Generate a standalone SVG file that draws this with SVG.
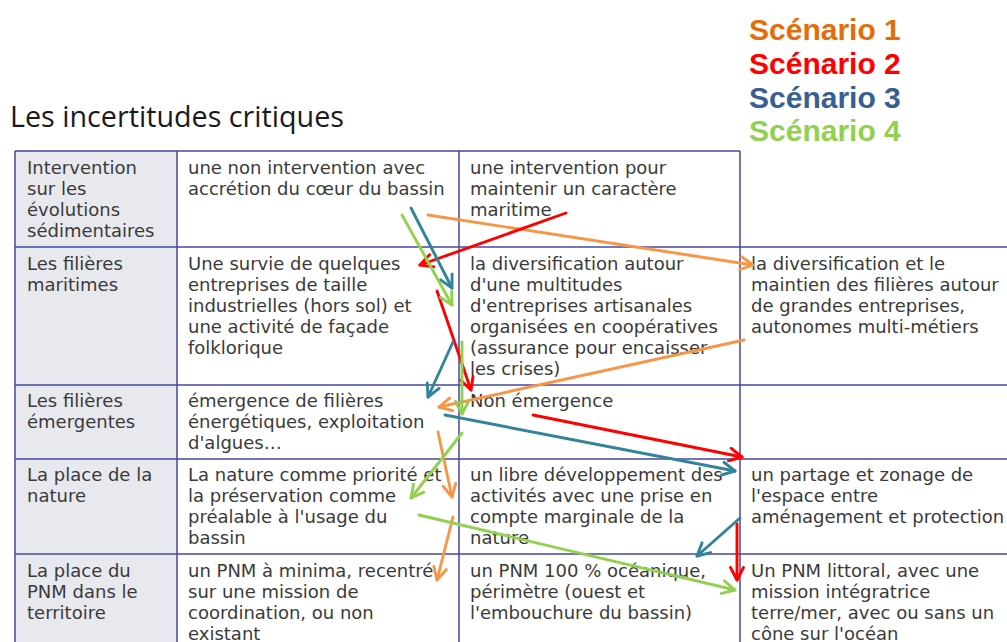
<svg xmlns="http://www.w3.org/2000/svg" width="1007" height="642" viewBox="0 0 1007 642">
  <style>
    .t { font-family: "DejaVu Sans", Verdana, sans-serif; font-size: 18px; fill: #3a3a3a; }
    .grid { stroke: #4646a0; stroke-width: 1.5; fill: none; }
    .leg { font-family: "Liberation Sans", Arial, sans-serif; font-size: 30px; font-weight: bold; }
    .a { fill: none; stroke-width: 2.9; stroke-linecap: round; }
    .s1 { stroke: #f79646; }
    .s2 { stroke: #ff0000; }
    .s3 { stroke: #31849b; }
    .s4 { stroke: #92d050; }
  </style>
  <defs>
    <marker id="m1" viewBox="0 0 16 16" refX="14" refY="8" markerWidth="16" markerHeight="16" markerUnits="userSpaceOnUse" orient="auto">
      <path d="M1.5,1.5 L14,8 L1.5,14.5" fill="none" stroke="#f79646" stroke-width="2.9" stroke-linecap="round" stroke-linejoin="round"/>
    </marker>
    <marker id="m2" viewBox="0 0 16 16" refX="14" refY="8" markerWidth="16" markerHeight="16" markerUnits="userSpaceOnUse" orient="auto">
      <path d="M1.5,1.5 L14,8 L1.5,14.5" fill="none" stroke="#ff0000" stroke-width="2.9" stroke-linecap="round" stroke-linejoin="round"/>
    </marker>
    <marker id="m3" viewBox="0 0 16 16" refX="14" refY="8" markerWidth="16" markerHeight="16" markerUnits="userSpaceOnUse" orient="auto">
      <path d="M1.5,1.5 L14,8 L1.5,14.5" fill="none" stroke="#31849b" stroke-width="2.9" stroke-linecap="round" stroke-linejoin="round"/>
    </marker>
    <marker id="m4" viewBox="0 0 16 16" refX="14" refY="8" markerWidth="16" markerHeight="16" markerUnits="userSpaceOnUse" orient="auto">
      <path d="M1.5,1.5 L14,8 L1.5,14.5" fill="none" stroke="#92d050" stroke-width="2.9" stroke-linecap="round" stroke-linejoin="round"/>
    </marker>
  </defs>
  <rect width="1007" height="642" fill="#ffffff"/>

  <g id="legend">
    <text class="leg" x="749" y="40" fill="#e46c0a">Scénario 1</text>
    <text class="leg" x="749" y="74" fill="#ff0000">Scénario 2</text>
    <text class="leg" x="749" y="107.5" fill="#376092">Scénario 3</text>
    <text class="leg" x="749" y="141" fill="#92d050">Scénario 4</text>
  </g>

  <g id="title">
    <text x="10" y="127" font-family="'Open Sans', 'Liberation Sans', sans-serif" font-size="28.5" fill="#1a1a1a" textLength="334" lengthAdjust="spacingAndGlyphs">Les incertitudes critiques</text>
  </g>

  <g id="table">
    <rect x="15" y="151" width="162" height="491" fill="#e8e8ef"/>
    <line class="grid" x1="15" y1="151" x2="740" y2="151"/>
    <line class="grid" x1="15" y1="247" x2="1007" y2="247"/>
    <line class="grid" x1="15" y1="385" x2="1007" y2="385"/>
    <line class="grid" x1="15" y1="459" x2="1007" y2="459"/>
    <line class="grid" x1="15" y1="554" x2="1007" y2="554"/>
    <line class="grid" x1="15" y1="151" x2="15" y2="642"/>
    <line class="grid" x1="177" y1="151" x2="177" y2="642"/>
    <line class="grid" x1="459" y1="151" x2="459" y2="642"/>
    <line class="grid" x1="740" y1="151" x2="740" y2="642"/>
  </g>

  <g id="r1c1"><text class="t" x="27" y="174"><tspan x="27">Intervention</tspan><tspan x="27" dy="21">sur les</tspan><tspan x="27" dy="21">évolutions</tspan><tspan x="27" dy="21">sédimentaires</tspan></text></g>
  <g id="r1c2"><text class="t" x="188" y="174"><tspan x="188">une non intervention avec</tspan><tspan x="188" dy="21">accrétion du cœur du bassin</tspan></text></g>
  <g id="r1c3"><text class="t" x="470" y="174"><tspan x="470">une intervention pour</tspan><tspan x="470" dy="21">maintenir un caractère</tspan><tspan x="470" dy="21">maritime</tspan></text></g>

  <g id="r2c1"><text class="t" x="27" y="270"><tspan x="27">Les filières</tspan><tspan x="27" dy="21">maritimes</tspan></text></g>
  <g id="r2c2"><text class="t" x="188" y="270"><tspan x="188">Une survie de quelques</tspan><tspan x="188" dy="21">entreprises de taille</tspan><tspan x="188" dy="21">industrielles (hors sol) et</tspan><tspan x="188" dy="21">une activité de façade</tspan><tspan x="188" dy="21">folklorique</tspan></text></g>
  <g id="r2c3"><text class="t" x="470" y="270"><tspan x="470">la diversification autour</tspan><tspan x="470" dy="21">d'une multitudes</tspan><tspan x="470" dy="21">d'entreprises artisanales</tspan><tspan x="470" dy="21">organisées en coopératives</tspan><tspan x="470" dy="21">(assurance pour encaisser</tspan><tspan x="470" dy="21">les crises)</tspan></text></g>
  <g id="r2c4"><text class="t" x="751" y="270"><tspan x="751">la diversification et le</tspan><tspan x="751" dy="21">maintien des filières autour</tspan><tspan x="751" dy="21">de grandes entreprises,</tspan><tspan x="751" dy="21">autonomes multi-métiers</tspan></text></g>

  <g id="r3c1"><text class="t" x="27" y="407"><tspan x="27">Les filières</tspan><tspan x="27" dy="21">émergentes</tspan></text></g>
  <g id="r3c2"><text class="t" x="188" y="407"><tspan x="188">émergence de filières</tspan><tspan x="188" dy="21">énergétiques, exploitation</tspan><tspan x="188" dy="21">d'algues…</tspan></text></g>
  <g id="r3c3"><text class="t" x="470" y="407">Non émergence</text></g>

  <g id="r4c1"><text class="t" x="27" y="481"><tspan x="27">La place de la</tspan><tspan x="27" dy="21">nature</tspan></text></g>
  <g id="r4c2"><text class="t" x="188" y="481"><tspan x="188">La nature comme priorité et</tspan><tspan x="188" dy="21">la préservation comme</tspan><tspan x="188" dy="21">préalable à l'usage du</tspan><tspan x="188" dy="21">bassin</tspan></text></g>
  <g id="r4c3"><text class="t" x="470" y="481"><tspan x="470">un libre développement des</tspan><tspan x="470" dy="21">activités avec une prise en</tspan><tspan x="470" dy="21">compte marginale de la</tspan><tspan x="470" dy="21">nature</tspan></text></g>
  <g id="r4c4"><text class="t" x="751" y="481"><tspan x="751">un partage et zonage de</tspan><tspan x="751" dy="21">l'espace entre</tspan><tspan x="751" dy="21">aménagement et protection</tspan></text></g>

  <g id="r5c1"><text class="t" x="27" y="577"><tspan x="27">La place du</tspan><tspan x="27" dy="21">PNM dans le</tspan><tspan x="27" dy="21">territoire</tspan></text></g>
  <g id="r5c2"><text class="t" x="188" y="577"><tspan x="188">un PNM à minima, recentré</tspan><tspan x="188" dy="21">sur une mission de</tspan><tspan x="188" dy="21">coordination, ou non</tspan><tspan x="188" dy="21">existant</tspan></text></g>
  <g id="r5c3"><text class="t" x="470" y="577"><tspan x="470">un PNM 100 % océanique,</tspan><tspan x="470" dy="21">périmètre (ouest et</tspan><tspan x="470" dy="21">l'embouchure du bassin)</tspan></text></g>
  <g id="r5c4"><text class="t" x="751" y="577"><tspan x="751">Un PNM littoral, avec une</tspan><tspan x="751" dy="21">mission intégratrice</tspan><tspan x="751" dy="21">terre/mer, avec ou sans un</tspan><tspan x="751" dy="21">cône sur l'océan</tspan></text></g>

  <g id="connectors">
    <line class="a s1" x1="428" y1="215" x2="753" y2="265" marker-end="url(#m1)"/>
    <line class="a s1" x1="744" y1="340" x2="439" y2="407" marker-end="url(#m1)"/>
    <line class="a s1" x1="438" y1="432" x2="452" y2="497" marker-end="url(#m1)"/>
    <line class="a s1" x1="453" y1="517" x2="437" y2="580" marker-end="url(#m1)"/>

    <line class="a s2" x1="566" y1="213" x2="420" y2="265" marker-end="url(#m2)"/>
    <line class="a s2" x1="437" y1="291" x2="471" y2="390" marker-end="url(#m2)"/>
    <line class="a s2" x1="533" y1="415" x2="742" y2="457" marker-end="url(#m2)"/>
    <line class="a s2" x1="737" y1="524" x2="737" y2="580" marker-end="url(#m2)"/>

    <line class="a s3" x1="411" y1="208" x2="452" y2="288" marker-end="url(#m3)"/>
    <line class="a s3" x1="453" y1="342" x2="428" y2="397" marker-end="url(#m3)"/>
    <line class="a s3" x1="445" y1="415" x2="735" y2="471" marker-end="url(#m3)"/>
    <line class="a s3" x1="740" y1="518" x2="697" y2="556" marker-end="url(#m3)"/>

    <line class="a s4" x1="402" y1="215" x2="452" y2="305" marker-end="url(#m4)"/>
    <line class="a s4" x1="462" y1="342" x2="462" y2="414" marker-end="url(#m4)"/>
    <line class="a s4" x1="462" y1="433" x2="411" y2="498" marker-end="url(#m4)"/>
    <line class="a s4" x1="419" y1="515" x2="735" y2="590" marker-end="url(#m4)"/>
  </g>
</svg>
